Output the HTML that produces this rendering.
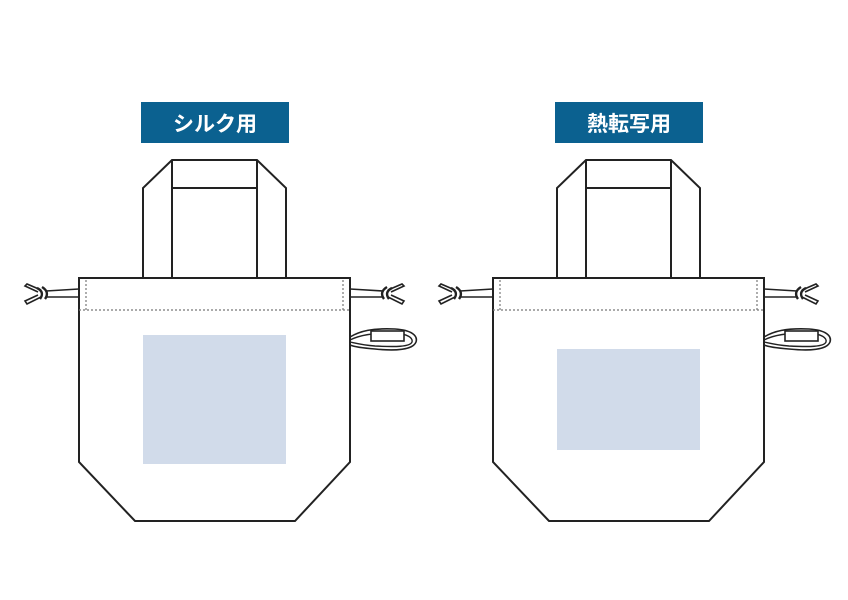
<!DOCTYPE html>
<html><head><meta charset="utf-8"><style>
html,body{margin:0;padding:0;background:#fff;width:848px;height:600px;overflow:hidden}
</style></head><body>
<svg width="848" height="600" viewBox="0 0 848 600" xmlns="http://www.w3.org/2000/svg">
<defs>
<g id="bag" fill="none" stroke="#222" stroke-width="2">
  <path d="M143,278 V188 L172,160 H257 L286,188 V278" fill="#fff"/>
  <path d="M172,278 V160 M257,278 V160 M172,188 H257"/>
  <!-- left cord -->
  <path d="M79,289 L46,291 M79,297 L46,297" stroke-width="1.6"/>
  <path d="M38,292 L25,286 L27,284 L41,290 M38,295 L25,301 L27,304 L41,297" stroke-width="1.6"/>
  <path d="M37,288 Q45,292 40,299 M42,287 Q50,292 45,299" stroke-width="2.4"/>
  <!-- right cord -->
  <path d="M350,289 L383,291 M350,297 L383,297" stroke-width="1.6"/>
  <path d="M391,292 L404,286 L402,284 L388,290 M391,295 L404,301 L402,304 L388,297" stroke-width="1.6"/>
  <path d="M392,288 Q384,292 389,299 M387,287 Q379,292 384,299" stroke-width="2.4"/>
  <!-- loop -->
  <path d="M350,337 C360,331 372,328 395,329 C412,330 418,336 416,342 C413,350 395,351 375,349 C362,348 355,347 350,345" stroke-width="1.6"/>
  <path d="M350,340 C360,335 372,333 395,333 C408,334 413,338 412,342 C410,347 395,347 375,346 C362,345 355,343 350,342" stroke-width="1.4"/>
  <rect x="371" y="331" width="33" height="10" fill="#fff" stroke-width="1.6"/>
  <!-- body -->
  <path d="M79,278 H350 V462 L295,521 H135 L79,462 Z" fill="#fff"/>
  <path d="M79,310 H350 M86,280 V310 M343,280 V310" stroke="#777" stroke-width="1.2" stroke-dasharray="2,2"/>
</g>
</defs>
<use href="#bag"/>
<use href="#bag" transform="translate(414,0)"/>
<rect x="143" y="335" width="143" height="129" fill="#d1dbea"/>
<rect x="557" y="349" width="143" height="101" fill="#d1dbea"/>
<rect x="141" y="102" width="148" height="41" fill="#0b6190"/>
<rect x="555" y="102" width="148" height="41" fill="#0b6190"/>
<text x="215" y="131" text-anchor="middle" fill="#fff" font-family="'Liberation Sans','Noto Sans CJK JP',sans-serif" font-weight="bold" font-size="21">シルク用</text>
<text x="629" y="131" text-anchor="middle" fill="#fff" font-family="'Liberation Sans','Noto Sans CJK JP',sans-serif" font-weight="bold" font-size="21">熱転写用</text>
</svg>
</body></html>
